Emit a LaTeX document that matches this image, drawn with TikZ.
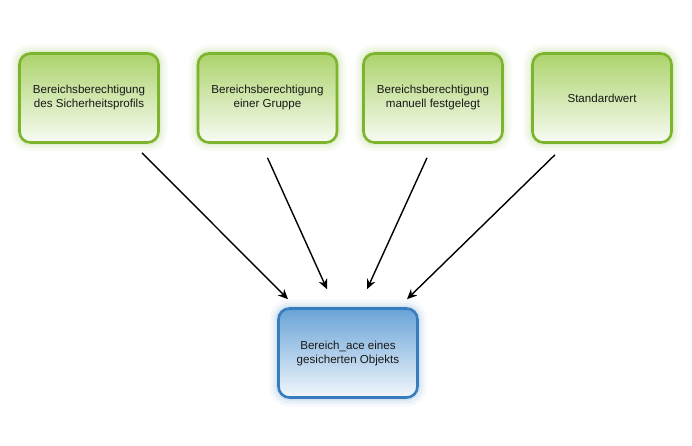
\documentclass[tikz,border=0pt]{standalone}
\usepackage{fontspec}
\setmainfont{Liberation Sans}
\usetikzlibrary{arrows.meta}
\definecolor{gtop}{RGB}{172,211,108}
\definecolor{gbot}{RGB}{248,251,243}
\definecolor{gline}{RGB}{125,180,45}
\definecolor{btop}{RGB}{105,163,215}
\definecolor{bbot}{RGB}{242,247,252}
\definecolor{bline}{RGB}{55,125,190}
\tikzset{
  glowg/.style={preaction={draw=gline,line width=18pt,opacity=0.05},
                preaction={draw=gline,line width=12pt,opacity=0.07},
                preaction={draw=gline,line width=6pt,opacity=0.12}},
  glowb/.style={preaction={draw=bline,line width=18pt,opacity=0.05},
                preaction={draw=bline,line width=12pt,opacity=0.07},
                preaction={draw=bline,line width=6pt,opacity=0.12}},
  gbox/.style={glowg, rounded corners=11pt, draw=gline, line width=2.6pt,
    top color=gtop, bottom color=gbot, minimum width=139pt, minimum height=89pt,
    align=center, font=\fontsize{11.6}{14}\selectfont, text=black!90},
  bbox/.style={glowb, rounded corners=11pt, draw=bline, line width=2.6pt,
    top color=btop, bottom color=bbot, minimum width=139pt, minimum height=89pt,
    align=center, font=\fontsize{11.6}{14}\selectfont, text=black!90},
  arr/.style={-{Stealth[length=10pt,width=9pt]}, line width=1.4pt, black}
}
\begin{document}
\begin{tikzpicture}[x=1pt,y=-1pt]
\useasboundingbox (0,0) rectangle (692,446);
\node[gbox] (b1) at (89,98) {Bereichsberechtigung\\des Sicherheitsprofils};
\node[gbox] (b2) at (267.5,98) {Bereichsberechtigung\\einer Gruppe};
\node[gbox] (b3) at (433,98) {Bereichsberechtigung\\manuell festgelegt};
\node[gbox] (b4) at (602,98) {Standardwert};
\node[bbox] (t) at (348,353) {Bereich\_ace eines\\gesicherten Objekts};
\coordinate (s1) at ([xshift=53pt,yshift=-9pt]b1.south);
\coordinate (s2) at ([xshift=0pt,yshift=-14pt]b2.south);
\coordinate (s3) at ([xshift=-6pt,yshift=-14pt]b3.south);
\coordinate (s4) at ([xshift=-47pt,yshift=-11pt]b4.south);
\coordinate (e1) at ([xshift=-60pt,yshift=8pt]t.north);
\coordinate (e2) at ([xshift=-21pt,yshift=18pt]t.north);
\coordinate (e3) at ([xshift=19pt,yshift=18pt]t.north);
\coordinate (e4) at ([xshift=59pt,yshift=8pt]t.north);
\draw[arr] (s1) -- (e1);
\draw[arr] (s2) -- (e2);
\draw[arr] (s3) -- (e3);
\draw[arr] (s4) -- (e4);
\end{tikzpicture}
\end{document}
